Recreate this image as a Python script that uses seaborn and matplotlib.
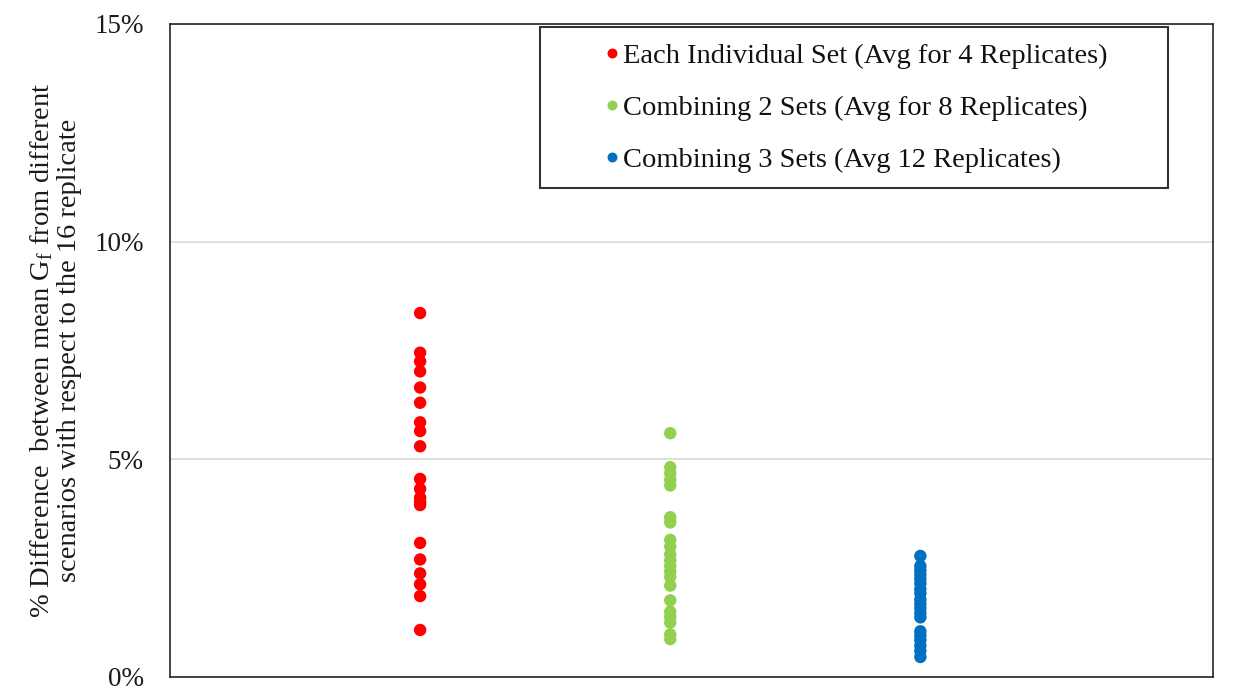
import numpy as np
import pandas as pd
import matplotlib
matplotlib.use("Agg")
import matplotlib.pyplot as plt
import seaborn as sns

# Percent differences of mean Gf for each grouping scenario
individual_sets = [8.36, 7.45, 7.25, 7.02, 6.65, 6.30, 5.85, 5.65, 5.30,
                   4.55, 4.32, 4.12, 4.02, 3.95, 3.08, 2.70, 2.38, 2.13, 1.86, 1.08]
two_sets = [5.60, 4.82, 4.68, 4.53, 4.40, 3.67, 3.55, 3.15, 3.00, 2.82,
            2.68, 2.55, 2.42, 2.30, 2.10, 1.76, 1.50, 1.38, 1.25, 0.98, 0.87]
three_sets = [2.78, 2.55, 2.45, 2.35, 2.25, 2.15, 2.02, 1.92, 1.78, 1.68,
              1.58, 1.47, 1.37, 1.05, 0.95, 0.85, 0.72, 0.60, 0.46]

labels = ["Each Individual Set (Avg for 4 Replicates)",
          "Combining 2 Sets (Avg for 8 Replicates)",
          "Combining 3 Sets (Avg 12 Replicates)"]
colors = ["#FF0000", "#92D050", "#0070C0"]
series = [individual_sets, two_sets, three_sets]

df = pd.DataFrame({
    "scenario": np.concatenate([[lab] * len(v) for lab, v in zip(labels, series)]),
    "pos": np.concatenate([[i + 1] * len(v) for i, v in enumerate(series)]),
    "value": np.concatenate(series) / 100.0,
})

sns.set_theme(style="white")
plt.rcParams["font.family"] = ["Liberation Serif", "DejaVu Serif"]
plt.rcParams["mathtext.fontset"] = "custom"
plt.rcParams["mathtext.rm"] = "Liberation Serif"
plt.rcParams["mathtext.it"] = "Liberation Serif:italic"

W, H = 1238, 694
fig = plt.figure(figsize=(W / 100, H / 100), dpi=100)
ax = fig.add_axes([170 / W, 1 - 677 / H, (1213 - 170) / W, (677 - 24) / H])

sns.scatterplot(data=df, x="pos", y="value", hue="scenario", hue_order=labels,
                palette=colors, s=80, edgecolor="none", linewidth=0, ax=ax)

ax.set_xlim(0, 4.17)
ax.set_ylim(0, 0.15)
ax.set_yticks([0, 0.05, 0.10, 0.15])
ax.set_yticklabels(["0%", "5%", "10%", "15%"], fontsize=19.5, color="#1a1a1a")
ax.set_xticks([])
ax.set_xlabel("")
ax.set_ylabel("% Difference  between mean G$_\\mathrm{f}$ from different\n"
              "scenarios with respect to the 16 replicate",
              fontsize=20.5, color="#1a1a1a", labelpad=9, linespacing=1.1)
ax.tick_params(axis="y", length=0, pad=19)
ax.yaxis.grid(True, color="#D9D9D9", linewidth=1.2)
ax.set_axisbelow(True)
for sp in ax.spines.values():
    sp.set_color("#262626")
    sp.set_linewidth(1.2)

# legend box spanning a fixed width in the upper right
x0 = (540 - 170) / 1043
x1 = (1168 - 170) / 1043
ytop = (677 - 27) / 653
leg = ax.legend(loc="upper left", bbox_to_anchor=(x0, ytop - 0.3, x1 - x0, 0.3),
                mode="expand", fontsize=20.5, frameon=True, fancybox=False,
                edgecolor="black", handlelength=3.95, handletextpad=-1.6,
                labelspacing=0.92, borderpad=0.55, markerscale=0.8,
                borderaxespad=0)
leg.get_frame().set_linewidth(1.5)
for t in leg.get_texts():
    t.set_color("#111111")

fig.savefig("out.png", dpi=100, facecolor="white")
